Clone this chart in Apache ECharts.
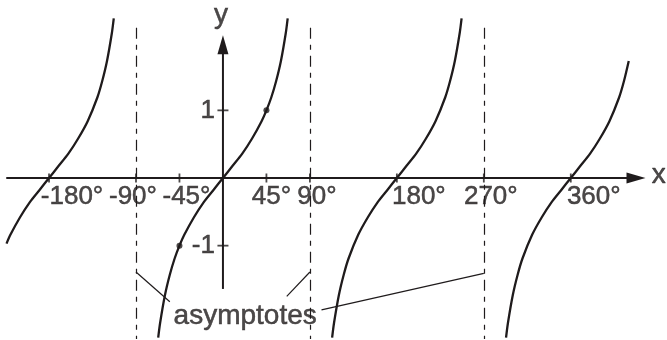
<!doctype html>
<meta charset="utf-8">
<style>
  html, body { margin: 0; padding: 0; width: 100%; height: 100%; background: #fff; }
  #chart { width: 667px; height: 340px; }
</style>
<script src="https://cdn.jsdelivr.net/npm/echarts@6/dist/echarts.min.js"></script>

<div id="chart"></div>

<script>
  // tan(x) branches, [degrees, y]
  const branchLeft = [[-224, -0.97], [-220, -0.84], [-210, -0.58], [-200, -0.36], [-190, -0.18], [-180, 0],
    [-170, 0.18], [-160, 0.36], [-150, 0.58], [-140, 0.84], [-130, 1.19], [-125, 1.43], [-120, 1.73], [-115, 2.14], [-113, 2.36]];
  const branchMid = [[-67, -2.36], [-65, -2.14], [-60, -1.73], [-55, -1.43], [-50, -1.19], [-45, -1], [-40, -0.84], [-30, -0.58],
    [-20, -0.36], [-10, -0.18], [0, 0], [10, 0.18], [20, 0.36], [30, 0.58], [40, 0.84], [45, 1], [50, 1.19], [55, 1.43],
    [60, 1.73], [65, 2.14], [67, 2.36]];
  const branch180 = [[113, -2.36], [115, -2.14], [120, -1.73], [125, -1.43], [130, -1.19], [140, -0.84], [150, -0.58],
    [160, -0.36], [170, -0.18], [180, 0], [190, 0.18], [200, 0.36], [210, 0.58], [220, 0.84], [230, 1.19], [235, 1.43],
    [240, 1.73], [245, 2.14], [247, 2.36]];
  const branchRight = [[293, -2.36], [295, -2.14], [300, -1.73], [305, -1.43], [310, -1.19], [320, -0.84], [330, -0.58],
    [340, -0.36], [350, -0.18], [360, 0], [370, 0.18], [380, 0.36], [390, 0.58], [400, 0.84], [410, 1.19], [415, 1.43], [420, 1.73]];

  const xTicks = [-180, -90, -45, 45, 90, 180, 270, 360];
  const xTickLabels = ['-180°', '-90°', '-45°', '45°', '90°', '180°', '270°', '360°'];
  const yTicks = [1, -1];
  const yTickLabels = ['1', '-1'];
  const markedPoints = [[45, 1], [-45, -1]];
  const asymptotes = [-90, 90, 270];
  const asymptoteTop = 2.22;
  // leader lines from the note to the asymptotes
  const leaders = [[[-90, -1.39], [-55, -1.83]], [[90, -1.39], [66, -1.75]], [[102, -1.95], [270, -1.41]]];
  const note = { text: 'asymptotes', at: [23, -2.04] };

  const INK = '#1f1b1c';
  const FONT = '"Liberation Sans", Arial, Helvetica, sans-serif';
  // label nudges (px) so that they sit clear of the curves
  const xLabelShift = [23, -3, 7, 5, 7, 22, 7, 23];

  let chart = echarts.init(document.getElementById('chart'));

  function branch(data) {
    return {
      type: 'line', data: data, smooth: 0.3, showSymbol: false, silent: true, z: 5,
      lineStyle: { color: INK, width: 2.3 }
    };
  }

  // shared text look: a hair of stroke to match the heavier print
  const textLook = {
    show: true, position: 'inside', formatter: '{b}', color: INK,
    fontFamily: FONT, textBorderColor: INK, textBorderWidth: 0.5
  };

  chart.setOption({
    animation: false,
    grid: { left: 7, top: 17, width: 629, height: 322 },
    xAxis: {
      type: 'value', min: -223.5, max: 427.5,
      axisLine: {
        onZero: true, symbol: ['none', 'triangle'], symbolSize: [11, 19],
        lineStyle: { color: INK, width: 2 }
      },
      axisTick: { show: false }, axisLabel: { show: false }, splitLine: { show: false }
    },
    yAxis: {
      type: 'value', min: -2.38, max: 2.38,
      axisLine: { show: false }, axisTick: { show: false }, axisLabel: { show: false }, splitLine: { show: false }
    },
    series: [
      branch(branchLeft), branch(branchMid), branch(branch180), branch(branchRight),
      // y axis with arrow
      {
        type: 'line', symbol: 'none', showSymbol: true, clip: false, silent: true, z: 4,
        data: [[0, -1.64], { value: [0, 1.97], symbol: 'triangle', symbolSize: [11, 19], itemStyle: { color: INK } }],
        lineStyle: { color: INK, width: 2 }
      },
      // tick marks
      {
        type: 'scatter', symbol: 'rect', symbolSize: [1.8, 9], silent: true, z: 4,
        itemStyle: { color: INK },
        data: xTicks.map(v => [v, 0])
      },
      {
        type: 'scatter', symbol: 'rect', symbolSize: [11, 1.8], silent: true, z: 4,
        itemStyle: { color: INK },
        data: yTicks.map(v => [0, v])
      },
      // tick labels, white behind so the dashed lines stop at them
      {
        type: 'scatter', symbolSize: 0, silent: true, clip: false, z: 3,
        data: xTicks.map((v, i) => ({
          value: [v, 0], name: xTickLabels[i],
          label: { offset: [xLabelShift[i], 19] }
        })),
        label: Object.assign({}, textLook, {
          fontSize: 26, lineHeight: 24, align: 'center', verticalAlign: 'middle', backgroundColor: '#fff'
        })
      },
      {
        type: 'scatter', symbolSize: 0, silent: true, clip: false, z: 3,
        data: yTicks.map((v, i) => ({ value: [0, v], name: yTickLabels[i] })),
        label: Object.assign({}, textLook, {
          offset: [-8, 0], fontSize: 26, align: 'right', verticalAlign: 'middle'
        })
      },
      // axis names and the note
      {
        type: 'scatter', symbolSize: 0, silent: true, clip: false, z: 3,
        data: [
          { value: [0, 2.4], name: 'y', label: { offset: [-2, 0] } },
          { value: [450, 0], name: 'x', label: { offset: [1, -3] } },
          { value: note.at, name: note.text }
        ],
        label: Object.assign({}, textLook, {
          fontSize: 28, align: 'center', verticalAlign: 'middle'
        })
      },
      // marked points
      {
        type: 'scatter', symbol: 'circle', symbolSize: 6, silent: true, z: 6,
        itemStyle: { color: INK },
        data: markedPoints
      },
      // asymptotes and leader lines
      {
        type: 'line', data: [], silent: true, z: 1,
        markLine: {
          silent: true, symbol: ['none', 'none'], animation: false,
          label: { show: false },
          data: asymptotes.map(a => [
            { coord: [a, asymptoteTop], lineStyle: { color: INK, width: 1.2, type: [11, 6, 5, 6] } },
            { coord: [a, -2.38] }
          ]).concat(leaders.map(l => [
            { coord: l[0], lineStyle: { color: INK, width: 1.2, type: 'solid' } },
            { coord: l[1] }
          ]))
        }
      }
    ]
  });
</script>
